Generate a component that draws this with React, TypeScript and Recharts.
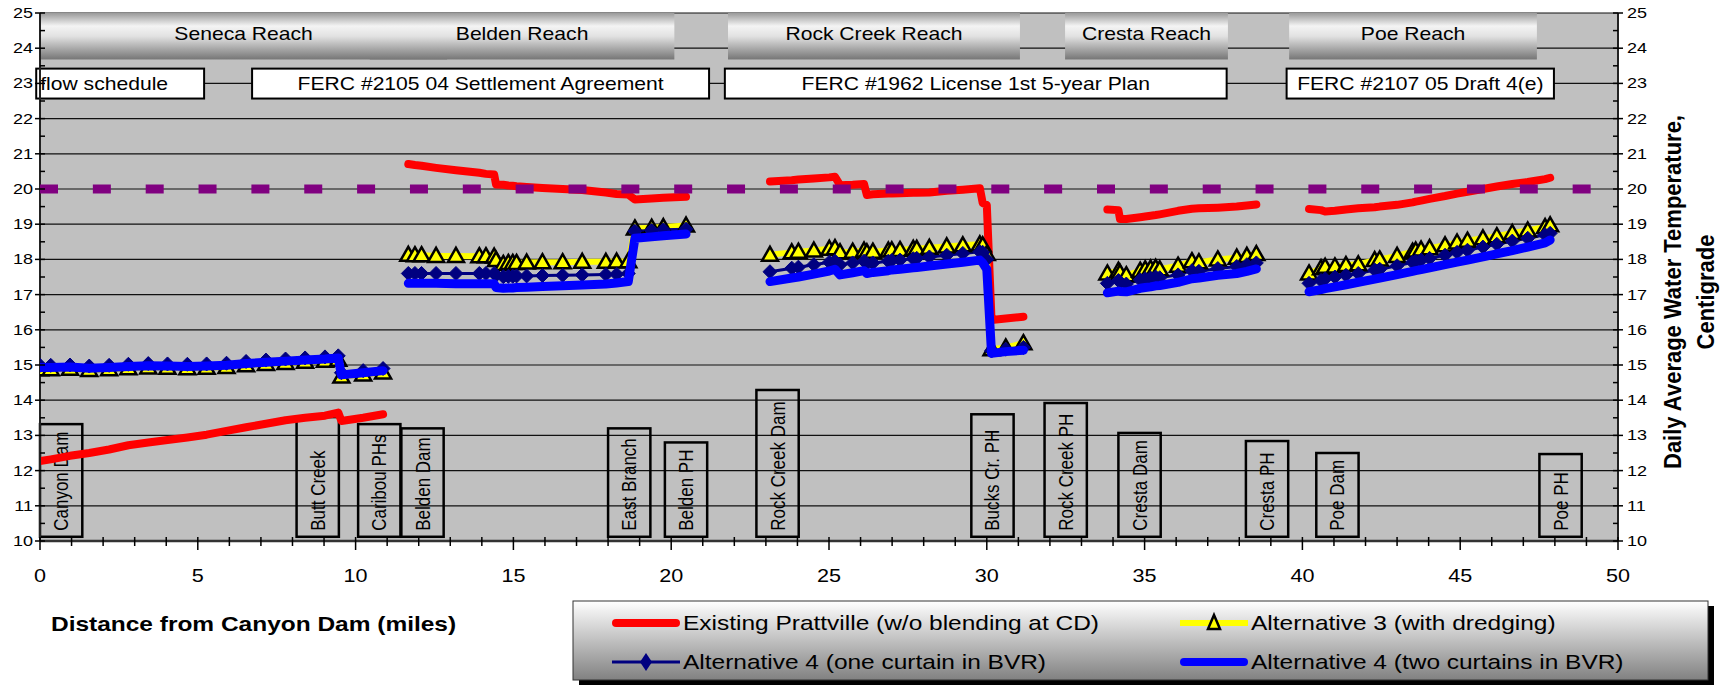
import React from 'react';
import { ComposedChart, Line, XAxis, YAxis, CartesianGrid, ReferenceLine, ReferenceArea } from 'recharts';

const FONT = '"Liberation Sans", Arial, Helvetica, sans-serif';
const SX = 1.2;

// ---- axis ticks ----
const xTickLabels = [0, 5, 10, 15, 20, 25, 30, 35, 40, 45, 50];
const yTickLabels = [10, 11, 12, 13, 14, 15, 16, 17, 18, 19, 20, 21, 22, 23, 24, 25];
const xAllTicks = Array.from({ length: 51 }, (_, i) => i);
const yAllTicks = yTickLabels.flatMap((v) => (v < 25 ? [v, v + 0.5] : [v]));

// ---- Seneca reach ----
const senecaMiles = [0, 0.34, 0.95, 1.56, 2.19, 2.8, 3.43, 4.04, 4.67, 5.28, 5.91, 6.53, 7.16, 7.78, 8.4, 9.03, 9.45, 9.55, 10.24, 10.87];
const senecaExisting = [12.27, 12.32, 12.42, 12.5, 12.6, 12.72, 12.8, 12.87, 12.94, 13.02, 13.13, 13.23, 13.33, 13.43, 13.5, 13.56, 13.65, 13.41, 13.5, 13.6];
const senecaAlt3 = [14.88, 14.88, 14.89, 14.86, 14.88, 14.91, 14.93, 14.92, 14.91, 14.92, 14.94, 14.99, 15.03, 15.06, 15.09, 15.12, 15.15, 14.67, 14.73, 14.79];
const senecaAlt4One = [14.99, 14.99, 15.0, 14.97, 14.99, 15.02, 15.04, 15.03, 15.02, 15.03, 15.05, 15.1, 15.14, 15.17, 15.2, 15.23, 15.26, 14.78, 14.84, 14.9];
const senecaAlt4Two = [14.93, 14.93, 14.94, 14.91, 14.93, 14.96, 14.98, 14.97, 14.96, 14.97, 14.99, 15.04, 15.08, 15.11, 15.14, 15.17, 15.2, 14.72, 14.78, 14.84];

// ---- Belden reach ----
const beldenMiles = [11.67, 11.88, 12.09, 12.55, 13.18, 13.92, 14.13, 14.39, 14.45, 14.68, 14.84, 14.98, 15.1, 15.42, 15.92, 16.56, 17.18, 17.93, 18.27, 18.64, 18.85, 19.38, 19.75, 20.47];
const beldenExisting = [20.71, 20.68, 20.66, 20.6, 20.53, 20.46, 20.43, 20.41, 20.13, 20.12, 20.1, 20.09, 20.08, 20.06, 20.03, 20.0, 19.97, 19.9, 19.86, 19.84, 19.7, 19.73, 19.75, 19.78];
const beldenAlt3 = [18.13, 18.12, 18.12, 18.1, 18.1, 18.09, 18.09, 18.08, 17.98, 17.87, 17.9, 17.9, 17.9, 17.91, 17.92, 17.92, 17.93, 17.93, 17.94, 17.95, 18.88, 18.9, 18.92, 18.96];
const beldenAlt4One = [17.6, 17.6, 17.6, 17.6, 17.6, 17.6, 17.6, 17.6, 17.55, 17.51, 17.52, 17.52, 17.53, 17.53, 17.54, 17.55, 17.56, 17.57, 17.58, 17.6, 18.8, 18.82, 18.84, 18.86];
const beldenAlt4Two = [17.32, 17.32, 17.32, 17.32, 17.31, 17.31, 17.31, 17.31, 17.2, 17.18, 17.19, 17.19, 17.2, 17.21, 17.23, 17.25, 17.27, 17.3, 17.33, 17.37, 18.6, 18.64, 18.67, 18.72];

// ---- Rock Creek reach ----
const rockMiles = [23.13, 23.82, 24.03, 24.52, 25.01, 25.19, 25.35, 25.75, 26.11, 26.2, 26.39, 26.88, 26.99, 27.25, 27.67, 27.78, 28.18, 28.73, 29.24, 29.78, 29.87, 30.0, 30.15, 30.6, 31.16];
const rockExisting = [20.21, 20.25, 20.27, 20.3, 20.33, 20.35, 20.11, 20.12, 20.14, 19.83, 19.85, 19.87, 19.87, 19.88, 19.89, 19.89, 19.9, 19.95, 19.98, 20.02, 19.6, 19.55, 16.28, 16.32, 16.37];
const rockAlt3 = [18.13, 18.2, 18.22, 18.25, 18.3, 18.32, 18.2, 18.22, 18.25, 18.2, 18.22, 18.25, 18.26, 18.27, 18.3, 18.3, 18.33, 18.37, 18.4, 18.43, 18.4, 18.15, 15.45, 15.5, 15.62];
const rockAlt4One = [17.65, 17.75, 17.78, 17.85, 17.92, 17.95, 17.85, 17.9, 17.95, 17.88, 17.9, 17.95, 17.97, 17.98, 18.02, 18.03, 18.07, 18.12, 18.17, 18.22, 18.2, 18.0, 15.4, 15.45, 15.5];
const rockAlt4Two = [17.37, 17.47, 17.5, 17.58, 17.67, 17.72, 17.56, 17.62, 17.68, 17.6, 17.63, 17.68, 17.7, 17.72, 17.76, 17.77, 17.81, 17.87, 17.92, 17.98, 17.9, 17.72, 15.33, 15.38, 15.42];

// ---- Cresta reach ----
const crestaMiles = [33.82, 34.17, 34.22, 34.42, 34.86, 35.02, 35.19, 35.35, 35.48, 36.06, 36.5, 36.72, 37.32, 37.92, 38.24, 38.54];
const crestaExisting = [19.42, 19.4, 19.15, 19.15, 19.2, 19.22, 19.24, 19.26, 19.28, 19.38, 19.44, 19.45, 19.47, 19.5, 19.53, 19.56];
const crestaAlt3 = [17.6, 17.68, 17.62, 17.55, 17.68, 17.72, 17.74, 17.76, 17.72, 17.82, 17.95, 17.92, 18.0, 18.05, 18.1, 18.15];
const crestaAlt4One = [17.32, 17.4, 17.36, 17.3, 17.42, 17.45, 17.47, 17.5, 17.48, 17.56, 17.68, 17.66, 17.74, 17.8, 17.85, 17.9];
const crestaAlt4Two = [17.05, 17.1, 17.09, 17.08, 17.18, 17.2, 17.22, 17.25, 17.26, 17.35, 17.45, 17.47, 17.55, 17.6, 17.66, 17.73];

// ---- Poe reach ----
const poeMiles = [40.21, 40.59, 40.72, 41.03, 41.38, 41.77, 42.29, 42.45, 43.0, 43.49, 43.59, 43.76, 44.03, 44.52, 44.9, 45.23, 45.72, 46.16, 46.65, 47.14, 47.69, 47.85];
const poeExisting = [19.43, 19.4, 19.36, 19.38, 19.42, 19.45, 19.48, 19.5, 19.55, 19.62, 19.64, 19.67, 19.72, 19.8, 19.87, 19.92, 20.0, 20.07, 20.14, 20.2, 20.28, 20.32];
const poeAlt3 = [17.6, 17.75, 17.79, 17.8, 17.84, 17.86, 17.98, 18.0, 18.1, 18.22, 18.25, 18.28, 18.32, 18.4, 18.48, 18.53, 18.6, 18.66, 18.75, 18.82, 18.92, 18.97];
const poeAlt4One = [17.32, 17.4, 17.45, 17.5, 17.55, 17.6, 17.7, 17.72, 17.82, 17.92, 17.95, 17.98, 18.03, 18.12, 18.2, 18.26, 18.35, 18.43, 18.52, 18.6, 18.7, 18.74];
const poeAlt4Two = [17.08, 17.14, 17.17, 17.22, 17.28, 17.35, 17.44, 17.47, 17.57, 17.66, 17.68, 17.71, 17.76, 17.85, 17.92, 17.98, 18.07, 18.16, 18.25, 18.35, 18.47, 18.55];

// ---- threshold ----
const thresholdTemp = 20;

// ---- reach headers ----
const reachNames = ['Seneca Reach', 'Belden Reach', 'Rock Creek Reach', 'Cresta Reach', 'Poe Reach'];
const reachStart = [0, 10.45, 21.8, 32.48, 39.58];
const reachEnd = [12.9, 20.1, 31.05, 37.64, 47.43];

// ---- flow schedule boxes ----
const planNames = ['flow schedule', 'FERC #2105 04 Settlement Agreement', 'FERC #1962 License 1st 5-year Plan', 'FERC #2107 05 Draft 4(e)'];
const planStart = [-0.12, 6.72, 21.7, 39.5];
const planEnd = [5.2, 21.2, 37.6, 47.97];

// ---- site labels ----
const siteNames = ['Canyon Dam', 'Butt Creek', 'Caribou PHs', 'Belden Dam', 'East Branch', 'Belden PH', 'Rock Creek Dam', 'Bucks Cr. PH', 'Rock Creek PH', 'Cresta Dam', 'Cresta PH', 'Poe Dam', 'Poe PH'];
const siteMiles = [0.67, 8.8, 10.75, 12.12, 18.67, 20.47, 23.37, 30.18, 32.5, 34.84, 38.88, 41.11, 48.18];
const siteTop = [13.32, 13.52, 13.32, 13.2, 13.2, 12.8, 14.29, 13.6, 13.92, 13.07, 12.84, 12.5, 12.47];

// ---- legend ----
const seriesNames = [
  'Existing Prattville (w/o blending at CD)',
  'Alternative 3 (with dredging)',
  'Alternative 4 (one curtain in BVR)',
  'Alternative 4 (two curtains in BVR)',
];

type Pt = { x: number; y: number | null };
const reachMiles = [senecaMiles, beldenMiles, rockMiles, crestaMiles, poeMiles];
function joinReaches(values: number[][]): Pt[] {
  const out: Pt[] = [];
  reachMiles.forEach((m, i) => {
    m.forEach((x, j) => out.push({ x, y: values[i][j] }));
    if (i < reachMiles.length - 1) out.push({ x: m[m.length - 1] + 0.05, y: null });
  });
  return out;
}
const existingData = joinReaches([senecaExisting, beldenExisting, rockExisting, crestaExisting, poeExisting]);
const alt3Data = joinReaches([senecaAlt3, beldenAlt3, rockAlt3, crestaAlt3, poeAlt3]);
const alt4OneData = joinReaches([senecaAlt4One, beldenAlt4One, rockAlt4One, crestaAlt4One, poeAlt4One]);
const alt4TwoData = joinReaches([senecaAlt4Two, beldenAlt4Two, rockAlt4Two, crestaAlt4Two, poeAlt4Two]);

const RED = '#FF0000';
const YELLOW = '#FFFF00';
const NAVY = '#000080';
const BLUE = '#0000FF';
const PURPLE = '#800080';

const SText = ({ x, y, sx = SX, children, ...rest }: any) => (
  <text transform={`translate(${x},${y}) scale(${sx},1)`} fontFamily={FONT} fill="#000" {...rest}>
    {children}
  </text>
);

const triangleDot = (p: any) => {
  const { cx, cy, index, payload } = p;
  if (payload == null || payload.y == null || cx == null || cy == null || isNaN(cy)) return <g key={`t${index}`} />;
  return (
    <polygon
      key={`t${index}`}
      points={`${cx},${cy - 8} ${cx + 8},${cy + 6} ${cx - 8},${cy + 6}`}
      fill={YELLOW}
      stroke="#000"
      strokeWidth={2.5}
    />
  );
};

const diamondDot = (p: any) => {
  const { cx, cy, index, payload } = p;
  if (payload == null || payload.y == null || cx == null || cy == null || isNaN(cy)) return <g key={`d${index}`} />;
  return (
    <polygon key={`d${index}`} points={`${cx},${cy - 7} ${cx + 7},${cy} ${cx},${cy + 7} ${cx - 7},${cy}`} fill={NAVY} stroke={NAVY} strokeWidth={1} />
  );
};

const LeftTick = (p: any) => {
  const { x, y, payload } = p;
  const v = payload.value;
  const major = Number.isInteger(v);
  return (
    <g>
      <line x1={major ? x - 5 : x} x2={x + 5} y1={y} y2={y} stroke="#000" strokeWidth={1.5} />
      {major && (
        <SText x={x - 7} y={y} textAnchor="end" dominantBaseline="central" fontSize={15}>
          {v}
        </SText>
      )}
    </g>
  );
};

const RightTick = (p: any) => {
  const { x, y, payload } = p;
  const v = payload.value;
  const major = Number.isInteger(v);
  return (
    <g>
      <line x1={x - 5} x2={major ? x + 5 : x} y1={y} y2={y} stroke="#000" strokeWidth={1.5} />
      {major && (
        <SText x={x + 9} y={y} textAnchor="start" dominantBaseline="central" fontSize={15}>
          {v}
        </SText>
      )}
    </g>
  );
};

const BottomTick = (p: any) => {
  const { x, y, payload } = p;
  const v = payload.value;
  const major = xTickLabels.includes(v);
  return (
    <g>
      <line x1={x} x2={x} y1={y - 4} y2={major ? y + 9 : y + 5} stroke="#000" strokeWidth={1.5} />
      {major && (
        <SText x={x} y={y + 35} textAnchor="middle" dominantBaseline="central" fontSize={18}>
          {v}
        </SText>
      )}
    </g>
  );
};

const reachShape = (name: string, i: number) => (p: any) => {
  const { x, y, width, height } = p;
  const id = `reachGrad${i}`;
  return (
    <g>
      <defs>
        <linearGradient id={id} x1="0" y1="0" x2="0" y2="1">
          <stop offset="0%" stopColor="#9a9a9a" />
          <stop offset="28%" stopColor="#f4f4f4" />
          <stop offset="50%" stopColor="#e2e2e2" />
          <stop offset="100%" stopColor="#767676" />
        </linearGradient>
      </defs>
      <rect x={x} y={y} width={width} height={height} fill={`url(#${id})`} />
      <SText x={x + width / 2} y={y + height / 2 - 3} textAnchor="middle" dominantBaseline="central" fontSize={17.6}>
        {name}
      </SText>
    </g>
  );
};

const planShape = (name: string, i: number) => (p: any) => {
  const { x, y, width, height } = p;
  const left = i === 0;
  return (
    <g>
      <rect x={x} y={y} width={width} height={height} fill="#fff" stroke="#000" strokeWidth={2} />
      <SText
        x={left ? x + 4 : x + width / 2}
        y={y + height / 2}
        textAnchor={left ? 'start' : 'middle'}
        dominantBaseline="central"
        fontSize={17.6}
      >
        {name}
      </SText>
    </g>
  );
};

const siteShape = (name: string) => (p: any) => {
  const { x, y, width, height } = p;
  const cx = x + width / 2;
  const by = y + height - 6;
  return (
    <g>
      <rect x={x} y={y} width={width} height={height} fill="none" stroke="#000" strokeWidth={2.5} />
      <text transform={`translate(${cx + 7},${by}) rotate(-90) scale(1,1.2)`} fontSize={17} fontFamily={FONT} fill="#000">
        {name}
      </text>
    </g>
  );
};

const SITE_W = 1.34;

const Legend = () => {
  const col1 = 612;
  const col2 = 1180;
  const row1 = 623;
  const row2 = 662;
  const symW = 68;
  const fs = 20.4;
  return (
    <g>
      <defs>
        <linearGradient id="legendGrad" x1="0" y1="0" x2="0" y2="1">
          <stop offset="0%" stopColor="#ffffff" />
          <stop offset="100%" stopColor="#818181" />
        </linearGradient>
      </defs>
      <rect x={579} y={606} width={1135} height={79} fill="#000" />
      <rect x={573} y={601} width={1135} height={79} fill="url(#legendGrad)" stroke="#333" strokeWidth={1} />
      <line x1={col1 + 4} x2={col1 + symW - 4} y1={row1} y2={row1} stroke={RED} strokeWidth={8} strokeLinecap="round" />
      <SText x={col1 + symW + 3} y={row1} dominantBaseline="central" fontSize={fs}>{seriesNames[0]}</SText>
      <line x1={col2} x2={col2 + symW} y1={row1} y2={row1} stroke={YELLOW} strokeWidth={6} />
      <polygon
        points={`${col2 + symW / 2},${row1 - 8} ${col2 + symW / 2 + 6},${row1 + 6} ${col2 + symW / 2 - 6},${row1 + 6}`}
        fill={YELLOW}
        stroke="#000"
        strokeWidth={2.5}
      />
      <SText x={col2 + symW + 3} y={row1} dominantBaseline="central" fontSize={fs}>{seriesNames[1]}</SText>
      <line x1={col1} x2={col1 + symW} y1={row2} y2={row2} stroke={NAVY} strokeWidth={3} />
      <polygon
        points={`${col1 + symW / 2},${row2 - 9} ${col1 + symW / 2 + 6},${row2} ${col1 + symW / 2},${row2 + 9} ${col1 + symW / 2 - 6},${row2}`}
        fill={NAVY}
      />
      <SText x={col1 + symW + 3} y={row2} dominantBaseline="central" fontSize={fs}>{seriesNames[2]}</SText>
      <line x1={col2 + 4} x2={col2 + symW - 4} y1={row2} y2={row2} stroke={BLUE} strokeWidth={8} strokeLinecap="round" />
      <SText x={col2 + symW + 3} y={row2} dominantBaseline="central" fontSize={fs}>{seriesNames[3]}</SText>
    </g>
  );
};

const yellowLineProps: any = { zIndex: 401 };
const navyLineProps: any = { zIndex: 402 };
const blueLineProps: any = { zIndex: 650 };
const purpleLineProps: any = { zIndex: 700 };

export default function App() {
  return (
    <div style={{ position: 'absolute', left: 0, top: 0, width: 1731, height: 685, background: '#fff', fontFamily: FONT }}>
      <div style={{ position: 'absolute', left: 0, top: 0 }}>
        <ComposedChart width={1731} height={685} margin={{ top: 13, right: 0, bottom: 0, left: 0 }}>
          <CartesianGrid
            yAxisId="left"
            vertical={false}
            horizontalValues={yTickLabels}
            stroke="#111"
            strokeWidth={1.2}
            fill="#C0C0C0"
            fillOpacity={1}
          />
          <XAxis
            type="number"
            dataKey="x"
            domain={[0, 50]}
            ticks={xAllTicks}
            interval={0}
            allowDataOverflow
            height={144}
            tickSize={0}
            tickMargin={0}
            tickLine={false}
            tick={BottomTick}
            axisLine={{ stroke: '#333', strokeWidth: 2.5 }}
          />
          <YAxis
            yAxisId="left"
            orientation="left"
            type="number"
            domain={[10, 25]}
            ticks={yAllTicks}
            interval={0}
            allowDataOverflow
            width={40}
            tickSize={0}
            tickMargin={0}
            tickLine={false}
            tick={LeftTick}
            axisLine={{ stroke: '#222', strokeWidth: 2 }}
          />
          <YAxis
            yAxisId="right"
            orientation="right"
            type="number"
            domain={[10, 25]}
            ticks={yAllTicks}
            interval={0}
            allowDataOverflow
            width={113}
            tickSize={0}
            tickMargin={0}
            tickLine={false}
            tick={RightTick}
            axisLine={{ stroke: '#222', strokeWidth: 2 }}
          />

          {reachNames.map((n, i) => (
            <ReferenceArea
              key={`reach${i}`}
              yAxisId="left"
              x1={reachStart[i]}
              x2={reachEnd[i]}
              y1={23.68}
              y2={25}
              ifOverflow="visible"
              shape={reachShape(n, i)}
            />
          ))}
          {planNames.map((n, i) => (
            <ReferenceArea
              key={`plan${i}`}
              yAxisId="left"
              x1={planStart[i]}
              x2={planEnd[i]}
              y1={22.57}
              y2={23.42}
              ifOverflow="visible"
              shape={planShape(n, i)}
            />
          ))}
          {siteNames.map((n, i) => (
            <ReferenceArea
              key={`site${i}`}
              yAxisId="left"
              x1={siteMiles[i] - SITE_W / 2}
              x2={siteMiles[i] + SITE_W / 2}
              y1={10.12}
              y2={siteTop[i]}
              ifOverflow="visible"
              shape={siteShape(n)}
            />
          ))}

          <Line
            yAxisId="left"
            data={existingData}
            dataKey="y"
            stroke={RED}
            strokeWidth={8}
            strokeLinecap="round"
            strokeLinejoin="round"
            dot={false}
            activeDot={false}
            connectNulls={false}
            isAnimationActive={false}
            type="linear"
          />
          <Line
            yAxisId="left"
            data={alt3Data}
            dataKey="y"
            stroke={YELLOW}
            strokeWidth={6}
            strokeLinejoin="round"
            dot={triangleDot}
            activeDot={false}
            connectNulls={false}
            isAnimationActive={false}
            type="linear"
            {...yellowLineProps}
          />
          <Line
            yAxisId="left"
            data={alt4OneData}
            dataKey="y"
            stroke={NAVY}
            strokeWidth={3}
            dot={diamondDot}
            activeDot={false}
            connectNulls={false}
            isAnimationActive={false}
            type="linear"
            {...navyLineProps}
          />
          <Line
            yAxisId="left"
            data={alt4TwoData}
            dataKey="y"
            stroke={BLUE}
            strokeWidth={9}
            strokeLinecap="round"
            strokeLinejoin="round"
            dot={false}
            activeDot={false}
            connectNulls={false}
            isAnimationActive={false}
            type="linear"
            {...blueLineProps}
          />
          <ReferenceLine
            yAxisId="left"
            y={thresholdTemp}
            stroke={PURPLE}
            strokeWidth={9}
            strokeDasharray="18 34.85"
            ifOverflow="visible"
            {...purpleLineProps}
          />
        </ComposedChart>
      </div>
      <svg width={1731} height={685} style={{ position: 'absolute', left: 0, top: 0, pointerEvents: 'none' }}>
        <SText x={51} y={624} dominantBaseline="central" fontSize={20.4} fontWeight="bold">
          Distance from Canyon Dam (miles)
        </SText>
        <text
          transform="translate(1673,292) rotate(-90) scale(1,1.12)"
          textAnchor="middle"
          dominantBaseline="central"
          fontFamily={FONT}
          fontWeight="bold"
          fontSize={22}
          fill="#000"
        >
          Daily Average Water Temperature,
        </text>
        <text
          transform="translate(1706,292) rotate(-90) scale(1,1.12)"
          textAnchor="middle"
          dominantBaseline="central"
          fontFamily={FONT}
          fontWeight="bold"
          fontSize={22}
          fill="#000"
        >
          Centigrade
        </text>
        <Legend />
      </svg>
    </div>
  );
}
